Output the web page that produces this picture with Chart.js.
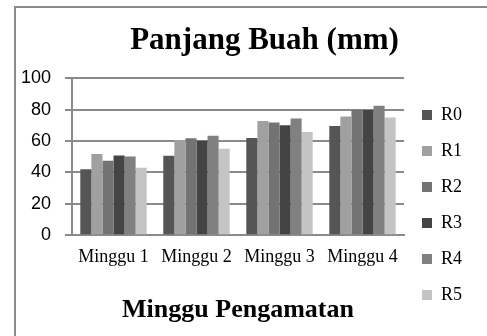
<!DOCTYPE html>
<html>
<head>
<meta charset="utf-8">
<script src="https://cdn.jsdelivr.net/npm/chart.js@4/dist/chart.umd.min.js"></script>
<style>
  html, body { margin: 0; padding: 0; background: #fff; overflow: hidden; }
  body { width: 487px; height: 336px; position: relative; }
  #frame {
    position: absolute; left: 14px; top: 6px; width: 600px; height: 400px;
    border-top: 2px solid #8a8a8a; border-left: 2px solid #8a8a8a;
  }
  #wrap { position: absolute; left: 16px; top: 0; width: 497px; height: 336px; }
</style>
</head>
<body>
<div id="frame"></div>
<div id="wrap"><canvas id="myBarChart" width="497" height="336"></canvas></div>
<script>
// data
var weeks = ['Minggu 1', 'Minggu 2', 'Minggu 3', 'Minggu 4'];
var seriesNames = ['R0', 'R1', 'R2', 'R3', 'R4', 'R5'];
var r0 = [42.0, 50.6, 61.9, 69.5];
var r1 = [51.7, 60.6, 72.7, 75.6];
var r2 = [47.4, 61.7, 71.8, 79.9];
var r3 = [50.8, 60.1, 70.1, 79.7];
var r4 = [50.2, 63.3, 74.4, 82.4];
var r5 = [43.0, 55.1, 65.7, 75.0];
var yTicks = [0, 20, 40, 60, 80, 100];

var seriesValues = [r0, r1, r2, r3, r4, r5];
var seriesColors = ['#555555', '#a0a0a0', '#737373', '#444444', '#808080', '#c4c4c4'];

// keep the legend column a fixed width so the plot ends where the original does
var legendWidthFix = {
    id: 'legendWidthFix',
    beforeLayout: function (chart) {
        var legend = chart.legend;
        if (legend && !legend._fitPatched) {
            var origFit = legend.fit;
            legend.fit = function () {
                origFit.call(this);
                this.width = 109;
            };
            legend._fitPatched = true;
        }
    }
};

function makeChart() {
    var datasets = [];
    for (var i = 0; i < seriesNames.length; i++) {
        datasets.push({
            label: seriesNames[i],
            data: seriesValues[i],
            backgroundColor: seriesColors[i],
            borderWidth: 0,
            categoryPercentage: 0.8,
            barPercentage: 1.0
        });
    }

    var ctx = document.getElementById('myBarChart').getContext('2d');

    var myBarChart = new Chart(ctx, {
        type: 'bar',
        data: { labels: weeks, datasets: datasets },
        plugins: [legendWidthFix],
        options: {
            responsive: false,
            animation: false,
            layout: { padding: 0 },
            plugins: {
                tooltip: { enabled: false },
                title: {
                    display: true,
                    text: 'Panjang Buah (mm)',
                    color: '#000',
                    font: { family: 'Liberation Serif', size: 31, weight: 'bold' },
                    padding: { top: 22, bottom: 19 }
                },
                legend: {
                    position: 'right',
                    align: 'start',
                    title: {
                        display: true,
                        text: '',
                        font: { size: 10 },
                        padding: { top: 76, bottom: 0 }
                    },
                    labels: {
                        color: '#000',
                        font: { family: 'Liberation Serif', size: 18 },
                        boxWidth: 10,
                        boxHeight: 10,
                        padding: 18
                    }
                }
            },
            scales: {
                x: {
                    grid: { display: false },
                    border: { display: true, color: '#8a8a8a', width: 2 },
                    ticks: {
                        color: '#000',
                        font: { family: 'Liberation Serif', size: 18 },
                        padding: 3,
                        maxRotation: 0
                    },
                    title: {
                        display: true,
                        text: 'Minggu Pengamatan',
                        color: '#000',
                        font: { family: 'Liberation Serif', size: 26, weight: 'bold' },
                        padding: { top: 24, bottom: 10 }
                    }
                },
                y: {
                    min: 0,
                    max: 100,
                    afterBuildTicks: function (axis) {
                        axis.ticks = yTicks.map(function (v) { return { value: v }; });
                    },
                    afterFit: function (axis) { axis.width = 56; },
                    grid: { color: '#8a8a8a', lineWidth: 2, tickLength: 7 },
                    border: { display: true, color: '#8a8a8a', width: 2 },
                    ticks: {
                        color: '#000',
                        font: { family: 'Liberation Sans', size: 18 },
                        padding: 14
                    }
                }
            }
        }
    });
}

makeChart();
</script>
</body>
</html>
